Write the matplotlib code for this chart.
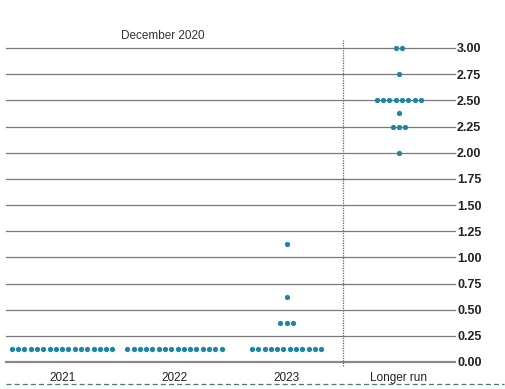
import matplotlib
matplotlib.use("Agg")
import matplotlib.pyplot as plt
from matplotlib.lines import Line2D
import matplotlib.transforms as mtransforms

plt.rcParams['font.family'] = ['Liberation Sans', 'DejaVu Sans']

categories = ["2021", "2022", "2023", "Longer run"]
# (rate, count) per category
dots_2021 = [(0.125, 17)]
dots_2022 = [(0.125, 16)]
dots_2023 = [(0.125, 12), (0.375, 3), (0.625, 1), (1.125, 1)]
dots_longer = [(2.00, 1), (2.25, 3), (2.375, 1), (2.50, 8), (2.75, 1), (3.00, 2)]
series = [dots_2021, dots_2022, dots_2023, dots_longer]
yticks = [0.0, 0.25, 0.5, 0.75, 1.0, 1.25, 1.5, 1.75, 2.0, 2.25, 2.5, 2.75, 3.0]
title = "December 2020"

dot_color = "#1a87a6"
spacing = 0.056

fig = plt.figure(figsize=(5.05, 3.89), dpi=100)
ax = fig.add_axes([6/505, (389-362)/389, (455-6)/505, (362-48)/389])
ax.set_xlim(0, 4)
ax.set_ylim(0, 3.0)

for ci, rows in enumerate(series):
    center = ci + 0.5
    for rate, n in rows:
        xs = [center + (i - (n - 1) / 2) * spacing for i in range(n)]
        ax.plot(xs, [rate] * n, 'o', color=dot_color, markersize=3.8,
                markeredgewidth=0, clip_on=False, zorder=3)

for yv in yticks:
    if yv == 0:
        ax.axhline(yv, color="#8a8a8a", lw=1.6, zorder=1, clip_on=False)
    else:
        ax.axhline(yv, color="#7a7a7a", lw=0.9, zorder=1, clip_on=False)

# dotted separator
trans = mtransforms.blended_transform_factory(ax.transData, ax.transAxes)
ax.plot([3, 3], [-0.012, 1.025], transform=trans, color="#666666", lw=0.9,
        linestyle=(0, (1, 1)), clip_on=False, zorder=2)

for s in ax.spines.values():
    s.set_visible(False)

ax.yaxis.tick_right()
ax.set_yticks(yticks)
ax.set_yticklabels([f"{v:.2f}" for v in yticks], fontsize=9, fontweight='bold', color="#222222")
ax.tick_params(axis='y', length=0, pad=1.5)

ax.set_xticks([0.5, 1.5, 2.5, 3.5])
ax.set_xticklabels(categories, fontsize=8.5, color="#222222")
ax.tick_params(axis='x', length=0, pad=7.5)

fig.text(163/505, (389-36)/389, title, ha='center', va='center', fontsize=8.5, color="#333333")

fig.add_artist(Line2D([6/505, 504/505], [(389-384)/389]*2, transform=fig.transFigure,
                      color="#3f7f70", lw=0.9, linestyle=(0, (4, 2.5))))

fig.savefig("out.png", dpi=100)
